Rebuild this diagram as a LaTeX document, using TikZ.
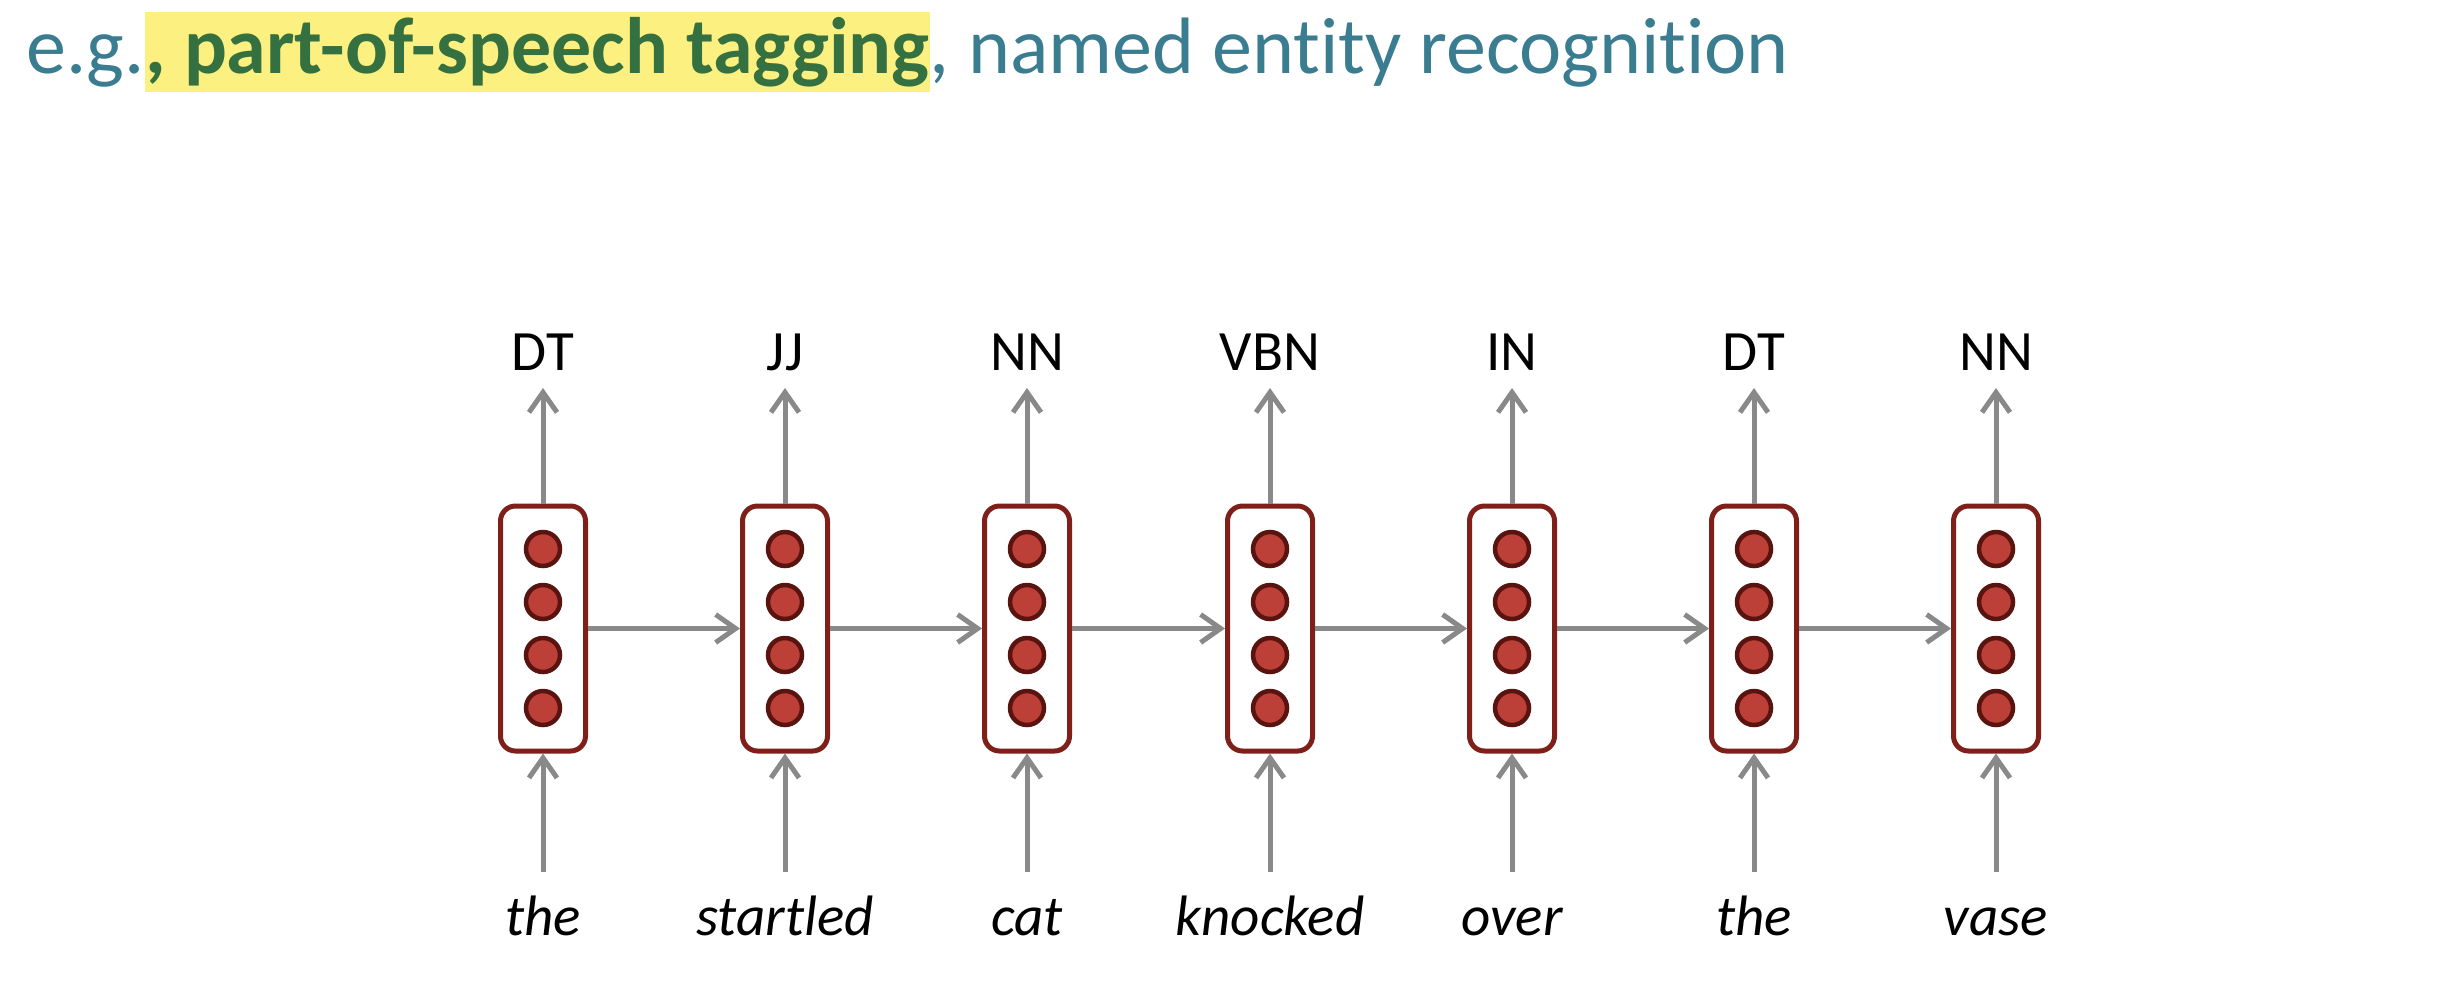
\documentclass[tikz,border=0pt]{standalone}
\usepackage{fontspec}
\setmainfont{Carlito}[Ligatures=NoCommon]
\usetikzlibrary{arrows.meta}
\definecolor{teal1}{RGB}{58,125,145}
\definecolor{green1}{RGB}{53,112,64}
\definecolor{hl}{RGB}{252,240,128}
\definecolor{arr}{RGB}{137,137,137}
\definecolor{boxred}{RGB}{127,31,26}
\definecolor{dotfill}{RGB}{188,64,56}
\definecolor{dotline}{RGB}{90,20,16}
\tikzset{
  cell/.style={draw=boxred, line width=5pt, fill=white, rounded corners=15pt, minimum width=85pt, minimum height=245pt, inner sep=0pt},
  dot/.style={circle, draw=dotline, fill=dotfill, line width=4.5pt, minimum size=34pt, inner sep=0pt},
  conn/.style={draw=arr, line width=5pt, -{Straight Barb[length=20pt,width=28pt,line width=5pt]}},
  tag/.style={font=\fontsize{57pt}{62pt}\selectfont, anchor=base, inner sep=0pt},
  word/.style={font=\fontsize{57pt}{62pt}\selectfont\itshape, anchor=base, inner sep=0pt},
  ttl/.style={font=\fontsize{80pt}{90pt}\selectfont, inner sep=0pt, anchor=base west}
}
\begin{document}
\begin{tikzpicture}[x=1pt,y=-1pt]
\useasboundingbox (0,0) rectangle (2462,986);
% title
\node[ttl, text=teal1] (t1) at (26,73) {e.g.};
\node[ttl, text=green1, fill=hl, font=\fontsize{80pt}{90pt}\selectfont\bfseries, text height=61pt, text depth=19pt, anchor=base west] (t2) at (t1.base east) {, part-of-speech tagging};
\node[ttl, text=teal1, anchor=base west] (t3) at (t2.base east) {, named entity recognition};
% cells
\foreach \i/\x/\tg/\w in {1/543/DT/the, 2/785/JJ/startled, 3/1027/NN/cat, 4/1270/VBN/knocked, 5/1512/IN/over, 6/1754/DT/the, 7/1996/NN/vase}{
  \node[cell] (c\i) at (\x,628.5) {};
  \foreach \k/\dy in {1/-79.5, 2/-26.5, 3/26.5, 4/79.5}{
    \node[dot] (d\i\k) at (\x,628.5+\dy) {};
  }
  \node[tag] (tag\i) at (\x,370) {\tg};
  \coordinate (top\i) at (\x,388);
  \coordinate (bot\i) at (\x,872);
  \node[word] (w\i) at (\x,935) {\w};
  \draw[conn] (c\i.north) -- (top\i);
  \draw[conn] (bot\i) -- (c\i.south);
}
\foreach \i/\j in {1/2,2/3,3/4,4/5,5/6,6/7}{
  \draw[conn] (c\i.east) -- (c\j.west);
}
\end{tikzpicture}
\end{document}
